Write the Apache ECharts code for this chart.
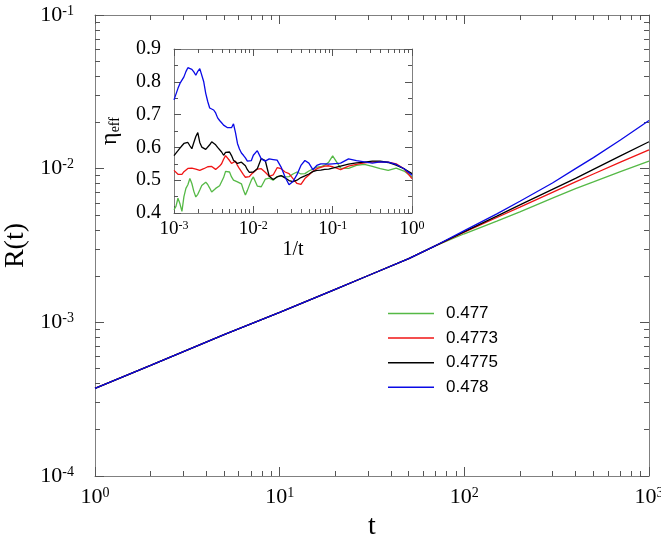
<!DOCTYPE html>
<html><head><meta charset="utf-8">
<script src="https://cdn.jsdelivr.net/npm/echarts@6/dist/echarts.min.js"></script>
<style>html,body{margin:0;padding:0;background:#fff}#c{width:661px;height:537px}</style>
</head><body><div id="c"></div>
<script>
// ---------- data ----------
const seriesNames = ['0.477', '0.4773', '0.4775', '0.478'];
const seriesColors = ['#55b946', '#f01414', '#000000', '#0a0ae6'];

// main panel: R(t)
const tValues = [1, 2, 5, 10, 20, 30, 50, 70, 100, 150, 200, 300, 400, 500, 700, 1000];
const R_0477  = [0.000372, 0.000525, 0.000832, 0.00116, 0.00164, 0.00201, 0.00260, 0.00316, 0.00377, 0.00455, 0.00524, 0.00643, 0.00741, 0.00820, 0.00957, 0.01119];
const R_04773 = [0.000372, 0.000525, 0.000832, 0.00116, 0.00164, 0.00201, 0.00260, 0.00316, 0.00386, 0.00481, 0.00562, 0.00701, 0.00820, 0.00923, 0.01102, 0.01324];
const R_04775 = [0.000372, 0.000525, 0.000832, 0.00116, 0.00164, 0.00201, 0.00260, 0.00316, 0.00389, 0.00491, 0.00581, 0.00733, 0.00865, 0.00989, 0.01211, 0.01496];
const R_0478  = [0.000372, 0.000525, 0.000832, 0.00116, 0.00164, 0.00201, 0.00260, 0.00316, 0.00395, 0.00508, 0.00614, 0.00807, 0.01000, 0.01180, 0.01538, 0.02056];

// inset: eta_eff vs 1/t
const invT = [0.001, 0.001059, 0.001122, 0.001189, 0.001259, 0.001334, 0.001413, 0.001496, 0.001585, 0.001679,
  0.001778, 0.001884, 0.001995, 0.002113, 0.002239, 0.002371, 0.002512, 0.002661, 0.002818, 0.002985,
  0.003162, 0.003350, 0.003548, 0.003758, 0.003981, 0.004217, 0.004467, 0.004732, 0.005012, 0.005309,
  0.005623, 0.005957, 0.006310, 0.006683, 0.007079, 0.007499, 0.007943, 0.008414, 0.008913, 0.009441,
  0.01, 0.01122, 0.01259, 0.01413, 0.01585, 0.01778, 0.01995, 0.02239, 0.02512, 0.02818,
  0.03162, 0.03548, 0.03981, 0.04467, 0.05012, 0.05623, 0.06310, 0.07079, 0.07943, 0.08913,
  0.1, 0.1259, 0.1585, 0.1995, 0.2512, 0.3162, 0.3981, 0.5012, 0.6310, 0.7943, 1.0];
const eta_0477 = [0.410, 0.420, 0.445, 0.428, 0.405, 0.450, 0.475, 0.486, 0.505, 0.490,
  0.466, 0.449, 0.457, 0.470, 0.484, 0.490, 0.494, 0.487, 0.476, 0.464,
  0.470, 0.475, 0.478, 0.483, 0.489, 0.508, 0.527, 0.533, 0.525, 0.510,
  0.500, 0.497, 0.495, 0.492, 0.489, 0.470, 0.455, 0.469, 0.485, 0.500,
  0.510, 0.482, 0.480, 0.503, 0.506, 0.500, 0.511, 0.513, 0.510, 0.511,
  0.519, 0.525, 0.519, 0.520, 0.528, 0.534, 0.540, 0.541, 0.546, 0.555,
  0.574, 0.537, 0.536, 0.545, 0.548, 0.542, 0.535, 0.530, 0.537, 0.528, 0.510];
const eta_04773 = [0.530, 0.525, 0.518, 0.512, 0.518, 0.526, 0.532, 0.536, 0.540, 0.537,
  0.535, 0.534, 0.532, 0.530, 0.533, 0.535, 0.537, 0.541, 0.545, 0.542,
  0.539, 0.533, 0.536, 0.543, 0.550, 0.564, 0.575, 0.569, 0.560, 0.551,
  0.556, 0.558, 0.545, 0.535, 0.526, 0.517, 0.509, 0.505, 0.511, 0.518,
  0.523, 0.534, 0.535, 0.524, 0.512, 0.516, 0.538, 0.535, 0.525, 0.520,
  0.505, 0.490, 0.487, 0.505, 0.516, 0.527, 0.535, 0.539, 0.543, 0.544,
  0.541, 0.532, 0.543, 0.548, 0.553, 0.555, 0.556, 0.555, 0.550, 0.535, 0.505];
const eta_04775 = [0.575, 0.580, 0.590, 0.598, 0.605, 0.612, 0.608, 0.615, 0.605, 0.596,
  0.615, 0.633, 0.645, 0.615, 0.601, 0.598, 0.594, 0.588, 0.608, 0.617,
  0.621, 0.608, 0.600, 0.596, 0.586, 0.576, 0.585, 0.590, 0.586, 0.575,
  0.561, 0.556, 0.551, 0.553, 0.555, 0.550, 0.544, 0.532, 0.524, 0.525,
  0.525, 0.535, 0.566, 0.560, 0.512, 0.502, 0.510, 0.514, 0.507, 0.499,
  0.496, 0.500, 0.508, 0.513, 0.519, 0.526, 0.530, 0.531, 0.533, 0.534,
  0.537, 0.543, 0.549, 0.553, 0.555, 0.558, 0.558, 0.554, 0.546, 0.535, 0.520];
const eta_0478 = [0.745, 0.750, 0.780, 0.795, 0.800, 0.815, 0.831, 0.843, 0.846, 0.838,
  0.830, 0.820, 0.832, 0.840, 0.846, 0.800, 0.765, 0.740, 0.720, 0.718,
  0.714, 0.705, 0.690, 0.682, 0.675, 0.668, 0.665, 0.660, 0.657, 0.660,
  0.672, 0.645, 0.612, 0.595, 0.583, 0.576, 0.568, 0.558, 0.555, 0.560,
  0.576, 0.590, 0.565, 0.558, 0.565, 0.563, 0.561, 0.540, 0.510, 0.486,
  0.496, 0.517, 0.545, 0.560, 0.552, 0.532, 0.545, 0.550, 0.550, 0.549,
  0.550, 0.552, 0.565, 0.560, 0.556, 0.552, 0.556, 0.555, 0.548, 0.535, 0.515];

// axis ranges / tick step
const mainXRange = [1, 1000];
const mainYRange = [1e-4, 1e-1];
const insetXRange = [0.001, 1];
const insetYRange = [0.4, 0.9];
const insetYStep = 0.1;

// ---------- helpers ----------
const GRAY = '#808080';
const TICK = '#555555';
const SERIF = 'Liberation Serif';
function powLabel(big, small, margin) {
  return {
    show: true, margin: margin,
    formatter: v => '{b|10}{s|' + Math.round(Math.log10(v)) + '}',
    rich: {
      b: { fontFamily: SERIF, fontSize: big, lineHeight: big, color: '#000' },
      s: { fontFamily: SERIF, fontSize: small, lineHeight: small * 0.75, verticalAlign: 'top', color: '#000' }
    }
  };
}
// axis that only draws the frame line and inward ticks
function tickAxis(type, grid, pos, range, len, minorSplit, minorLen, interval) {
  const a = {
    type: type, gridIndex: grid, position: pos, min: range[0], max: range[1],
    splitLine: { show: false }, minorSplitLine: { show: false },
    axisLine: { show: true, onZero: false, lineStyle: { color: GRAY, width: 1 } },
    axisTick: { show: true, inside: true, length: len, lineStyle: { color: TICK, width: 1 } },
    minorTick: { show: true, splitNumber: minorSplit, length: minorLen, lineStyle: { color: TICK, width: 1 } },
    axisLabel: { show: false }
  };
  if (type === 'log') a.logBase = 10;
  if (interval) a.interval = interval;
  return a;
}
// axis that only draws labels and the axis name
function labelAxis(type, grid, pos, range, label, name, interval) {
  const a = {
    type: type, gridIndex: grid, position: pos, min: range[0], max: range[1],
    splitLine: { show: false }, minorSplitLine: { show: false },
    axisLine: { show: false, onZero: false }, axisTick: { show: false }, minorTick: { show: false },
    axisLabel: label
  };
  if (type === 'log') a.logBase = 10;
  if (interval) a.interval = interval;
  return Object.assign(a, name);
}

const xAxes = [
  tickAxis('log', 0, 'bottom', mainXRange, 9, 9, 5),
  tickAxis('log', 0, 'top', mainXRange, 9, 9, 5),
  labelAxis('log', 0, 'bottom', mainXRange, powLabel(22, 14, 10),
    { name: 't', nameLocation: 'middle', nameGap: 36, nameTextStyle: { fontFamily: SERIF, fontSize: 28, color: '#000' } }),
  tickAxis('log', 1, 'bottom', insetXRange, 7, 9, 4),
  tickAxis('log', 1, 'top', insetXRange, 7, 9, 4),
  labelAxis('log', 1, 'bottom', insetXRange, powLabel(19, 12, 7),
    { name: '1/t', nameLocation: 'middle', nameGap: 21, nameTextStyle: { fontFamily: SERIF, fontSize: 20, color: '#000' } })
];
const yAxes = [
  tickAxis('log', 0, 'left', mainYRange, 9, 9, 5),
  tickAxis('log', 0, 'right', mainYRange, 9, 9, 5),
  labelAxis('log', 0, 'left', mainYRange, powLabel(22, 14, 21),
    { name: 'R(t)', nameLocation: 'middle', nameGap: 57, nameTextStyle: { fontFamily: SERIF, fontSize: 28, color: '#000' } }),
  tickAxis('value', 1, 'left', insetYRange, 7, 2, 4, insetYStep),
  tickAxis('value', 1, 'right', insetYRange, 7, 2, 4, insetYStep),
  labelAxis('value', 1, 'left', insetYRange,
    { show: true, margin: 13, formatter: v => v.toFixed(1), fontFamily: SERIF, fontSize: 20, color: '#000' },
    { name: '{e|η}{f|eff}', nameLocation: 'middle', nameGap: 52,
      nameTextStyle: { rich: {
        e: { fontFamily: SERIF, fontSize: 24, lineHeight: 24, color: '#000' },
        f: { fontFamily: SERIF, fontSize: 14, lineHeight: 10, verticalAlign: 'bottom', color: '#000' } } } },
    insetYStep)
];

const mainData = [R_0477, R_04773, R_04775, R_0478];
const insetData = [eta_0477, eta_04773, eta_04775, eta_0478];
const series = [];
mainData.forEach((arr, i) => series.push({
  name: seriesNames[i], type: 'line', xAxisIndex: 0, yAxisIndex: 0, symbol: 'none', showSymbol: false,
  lineStyle: { color: seriesColors[i], width: 1.3 }, itemStyle: { color: seriesColors[i] },
  data: tValues.map((t, k) => [t, arr[k]])
}));
insetData.forEach((arr, i) => series.push({
  name: seriesNames[i], type: 'line', xAxisIndex: 3, yAxisIndex: 3, symbol: 'none', showSymbol: false,
  lineStyle: { color: seriesColors[i], width: 1.3 }, itemStyle: { color: seriesColors[i] },
  data: invT.map((x, k) => [x, arr[k]])
}));

const chart = echarts.init(document.getElementById('c'), null, { renderer: 'canvas' });
chart.setOption({
  animation: false,
  backgroundColor: '#fff',
  grid: [
    { left: 95, top: 15, right: 12, bottom: 61, containLabel: false, outerBoundsMode: 'none' },
    { left: 174, top: 49, width: 238, height: 164, containLabel: false, outerBoundsMode: 'none' }
  ],
  xAxis: xAxes,
  yAxis: yAxes,
  legend: {
    data: seriesNames, orient: 'vertical', left: 388, top: 305, padding: 0,
    icon: 'rect', itemWidth: 46, itemHeight: 1.5, itemGap: 7.6, selectedMode: false,
    textStyle: { fontFamily: 'Liberation Sans', fontSize: 17, lineHeight: 17, color: '#000', padding: [0, 0, 0, 7] }
  },
  series: series
});
</script></body></html>
